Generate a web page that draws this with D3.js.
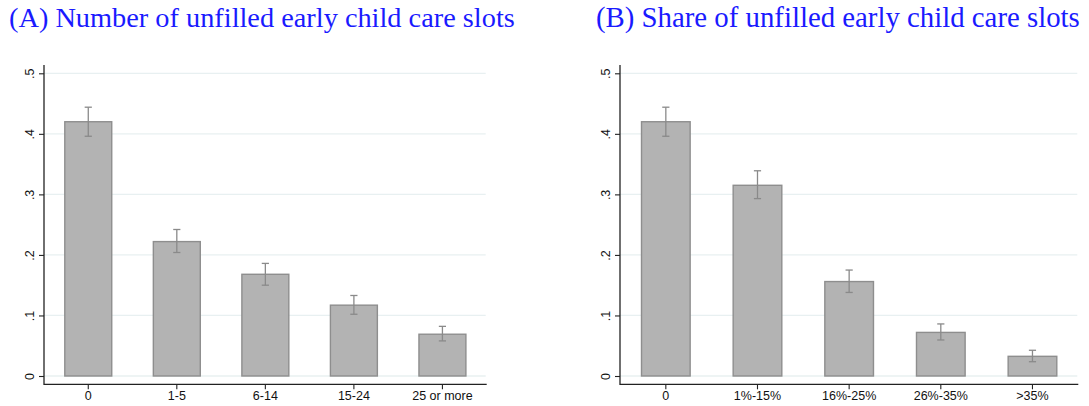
<!DOCTYPE html>
<html><head><meta charset="utf-8">
<script src="https://cdn.jsdelivr.net/npm/d3@7"></script>
<style>body{margin:0;background:#fff}svg{display:block}</style>
</head><body>
<svg id="c" width="1089" height="406"></svg>
<script>
const catsA = ["0","1-5","6-14","15-24","25 or more"];
const valsA = [0.420,0.222,0.168,0.117,0.069];
const loA   = [0.396,0.204,0.150,0.102,0.058];
const hiA   = [0.444,0.242,0.186,0.133,0.082];
const catsB = ["0","1%-15%","16%-25%","26%-35%",">35%"];
const valsB = [0.420,0.315,0.156,0.072,0.0325];
const loB   = [0.396,0.293,0.138,0.0595,0.0236];
const hiB   = [0.444,0.339,0.175,0.086,0.0425];
const yTicks = [0,0.1,0.2,0.3,0.4,0.5];
const titleA = "(A) Number of unfilled early child care slots";
const titleB = "(B) Share of unfilled early child care slots";

const svg = d3.select("#c");
const y = d3.scaleLinear().domain([0,0.5]).range([376,73.3]);
const yTop = 65, yBot = 384.3;
const fmt = d => d===0 ? "0" : d3.format(".1f")(d).replace(/^0/,"");

function panel(cfg){
  const g = svg.append("g");
  const x = d3.scaleBand().domain(cfg.cats).range([cfg.x0,cfg.x1]).paddingInner(0.454).paddingOuter(0.227);
  // gridlines
  g.selectAll("line.grid").data(yTicks).join("line")
    .attr("x1",cfg.x0).attr("x2",cfg.x1-1).attr("y1",d=>y(d)).attr("y2",d=>y(d))
    .attr("stroke","#e8f0f1").attr("stroke-width",1.3);
  // bars
  const data = cfg.cats.map((c,i)=>({c,v:cfg.vals[i],lo:cfg.lo[i],hi:cfg.hi[i]}));
  g.selectAll("rect").data(data).join("rect")
    .attr("x",d=>x(d.c)+0.7).attr("width",x.bandwidth()-1.4)
    .attr("y",d=>y(d.v)).attr("height",d=>y(0)-y(d.v))
    .attr("fill","#b3b3b3").attr("stroke","#8e8e8e").attr("stroke-width",1.4);
  // error bars
  const cx = d=>x(d.c)+x.bandwidth()/2;
  const eb = g.selectAll("g.eb").data(data).join("g").attr("stroke","#8a8a8a").attr("stroke-width",1.3);
  eb.append("line").attr("x1",cx).attr("x2",cx).attr("y1",d=>y(d.hi)).attr("y2",d=>y(d.lo));
  eb.append("line").attr("x1",d=>cx(d)-3.6).attr("x2",d=>cx(d)+3.6).attr("y1",d=>y(d.hi)).attr("y2",d=>y(d.hi));
  eb.append("line").attr("x1",d=>cx(d)-3.6).attr("x2",d=>cx(d)+3.6).attr("y1",d=>y(d.lo)).attr("y2",d=>y(d.lo));
  // y axis
  const ya = g.append("g").attr("transform",`translate(${cfg.x0},0)`)
    .call(d3.axisLeft(y).tickValues(yTicks).tickSize(5).tickFormat(fmt));
  ya.select(".domain").remove();
  ya.selectAll(".tick line").attr("stroke","#222").attr("stroke-width",1.1);
  ya.selectAll(".tick text").attr("x",null).attr("dy",null)
    .attr("transform","translate(-10.5,0) rotate(-90)").attr("text-anchor","middle")
    .attr("font-family","Liberation Sans, Arial, sans-serif").attr("font-size",12.5).attr("fill","#111");
  g.append("line").attr("x1",cfg.x0).attr("x2",cfg.x0).attr("y1",yTop).attr("y2",yBot+0.6).attr("stroke","#222").attr("stroke-width",1.3);
  // x axis
  const xa = g.append("g").attr("transform",`translate(0,${yBot})`)
    .call(d3.axisBottom(x).tickSize(5).tickPadding(2));
  xa.select(".domain").remove();
  xa.selectAll(".tick line").attr("stroke","#222").attr("stroke-width",1.1);
  xa.selectAll(".tick text").attr("font-family","Liberation Sans, Arial, sans-serif").attr("font-size",12.5).attr("fill","#111");
  g.append("line").attr("x1",cfg.x0).attr("x2",cfg.x1).attr("y1",yBot).attr("y2",yBot).attr("stroke","#222").attr("stroke-width",1.3);
  // title
  const t = svg.append("text").attr("x",cfg.tx).attr("y",26.5).text(cfg.title)
    .attr("font-family","Liberation Serif, Times New Roman, serif").attr("font-size",26).attr("fill","#1a1aff");
  const len = t.node().getComputedTextLength();
  t.attr("font-size",26*cfg.tw/len);
}
panel({cats:catsA,vals:valsA,lo:loA,hi:hiA,x0:44,x1:486.7,title:titleA,tx:9,tw:506});
panel({cats:catsB,vals:valsB,lo:loB,hi:hiB,x0:620,x1:1078.3,title:titleB,tx:596,tw:484});
</script>
</body></html>
